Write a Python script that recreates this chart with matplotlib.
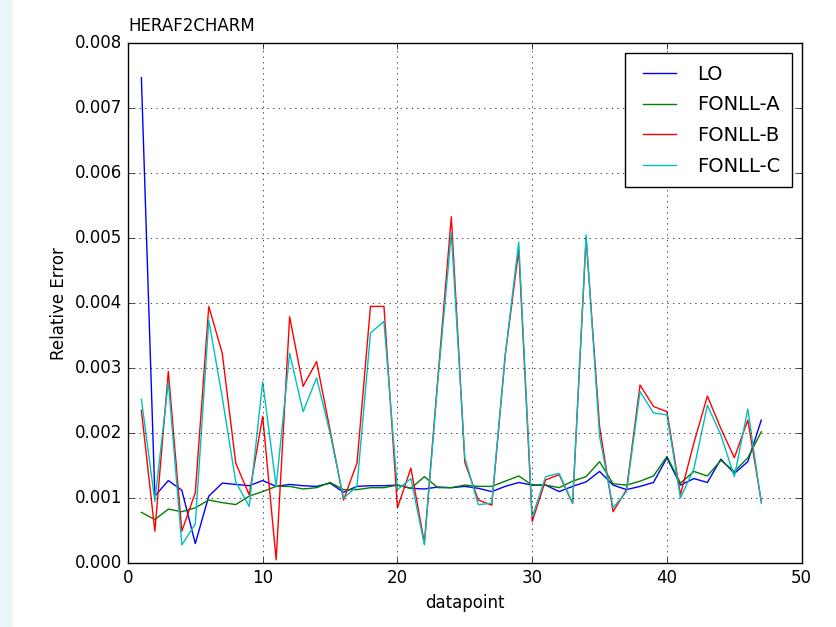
import numpy as np
import matplotlib
matplotlib.use('Agg')
import matplotlib.pyplot as plt
from matplotlib.patches import Rectangle

plt.style.use('classic')

# values, in units of 1e-3
datapoint = np.arange(1, 48)
lo = [7.47, 1.03, 1.27, 1.12, 0.30, 1.03, 1.23, 1.21, 1.19, 1.27,
      1.18, 1.21, 1.19, 1.18, 1.23, 1.09, 1.18, 1.19, 1.19, 1.20,
      1.15, 1.14, 1.17, 1.16, 1.18, 1.15, 1.10, 1.18, 1.24, 1.20,
      1.20, 1.10, 1.18, 1.25, 1.41, 1.20, 1.13, 1.18, 1.24, 1.62,
      1.20, 1.30, 1.24, 1.60, 1.38, 1.56, 2.20]
fonll_a = [0.78, 0.67, 0.83, 0.79, 0.85, 0.97, 0.93, 0.90, 1.03, 1.10,
           1.18, 1.18, 1.14, 1.16, 1.24, 1.13, 1.13, 1.16, 1.16, 1.20,
           1.15, 1.33, 1.16, 1.16, 1.20, 1.18, 1.18, 1.26, 1.34, 1.20,
           1.20, 1.16, 1.26, 1.33, 1.56, 1.22, 1.20, 1.26, 1.34, 1.64,
           1.23, 1.41, 1.34, 1.58, 1.41, 1.62, 2.02]
fonll_b = [2.35, 0.49, 2.95, 0.49, 1.08, 3.95, 3.23, 1.54, 1.05, 2.26,
           0.05, 3.79, 2.72, 3.10, 2.05, 0.97, 1.54, 3.95, 3.95, 0.85,
           1.46, 0.31, 2.85, 5.33, 1.55, 0.97, 0.89, 3.20, 4.82, 0.64,
           1.28, 1.36, 0.92, 5.00, 2.10, 0.79, 1.13, 2.74, 2.41, 2.33,
           1.05, 1.85, 2.57, 2.07, 1.62, 2.20, 0.95]
fonll_c = [2.52, 0.95, 2.79, 0.28, 0.60, 3.74, 2.55, 1.25, 0.87, 2.79,
           1.18, 3.23, 2.33, 2.85, 2.00, 1.00, 1.18, 3.54, 3.72, 1.13,
           1.30, 0.28, 2.80, 5.08, 1.62, 0.90, 0.92, 3.20, 4.94, 0.71,
           1.33, 1.38, 0.92, 5.05, 1.95, 0.85, 1.10, 2.64, 2.31, 2.28,
           1.00, 1.45, 2.43, 1.97, 1.33, 2.37, 0.92]

series = [('LO', lo, 'b'), ('FONLL-A', fonll_a, 'g'),
          ('FONLL-B', fonll_b, 'r'), ('FONLL-C', fonll_c, 'c')]

fig = plt.figure(figsize=(8.36, 6.27), dpi=100, facecolor='white')
# light page strip on the left edge of the screenshot
fig.patches.append(Rectangle((0, 0), 13 / 836, 1, transform=fig.transFigure,
                             facecolor='#e9f6f8', edgecolor='none', zorder=-1))
ax = fig.add_axes([0.153, 0.102, 0.806, 0.829])

for name, vals, col in series:
    ax.plot(datapoint, np.array(vals) * 1e-3, color=col, lw=1.0, label=name)

ax.set_xlim(0, 50)
ax.set_ylim(0, 0.008)
ax.set_yticks(np.arange(0, 0.0081, 0.001))
ax.yaxis.set_major_formatter(matplotlib.ticker.FormatStrFormatter('%.3f'))
ax.tick_params(labelsize=12)
ax.grid(True)
ax.set_xlabel('datapoint', fontsize=12)
ax.set_ylabel('Relative Error', fontsize=12)
ax.set_title('HERAF2CHARM', loc='left', fontsize=12, y=1.01)
ax.legend(loc='upper right', fontsize=14, handlelength=2.3,
          labelspacing=0.6, borderpad=0.6)

fig.savefig('out.png', dpi=100, facecolor=fig.get_facecolor())
